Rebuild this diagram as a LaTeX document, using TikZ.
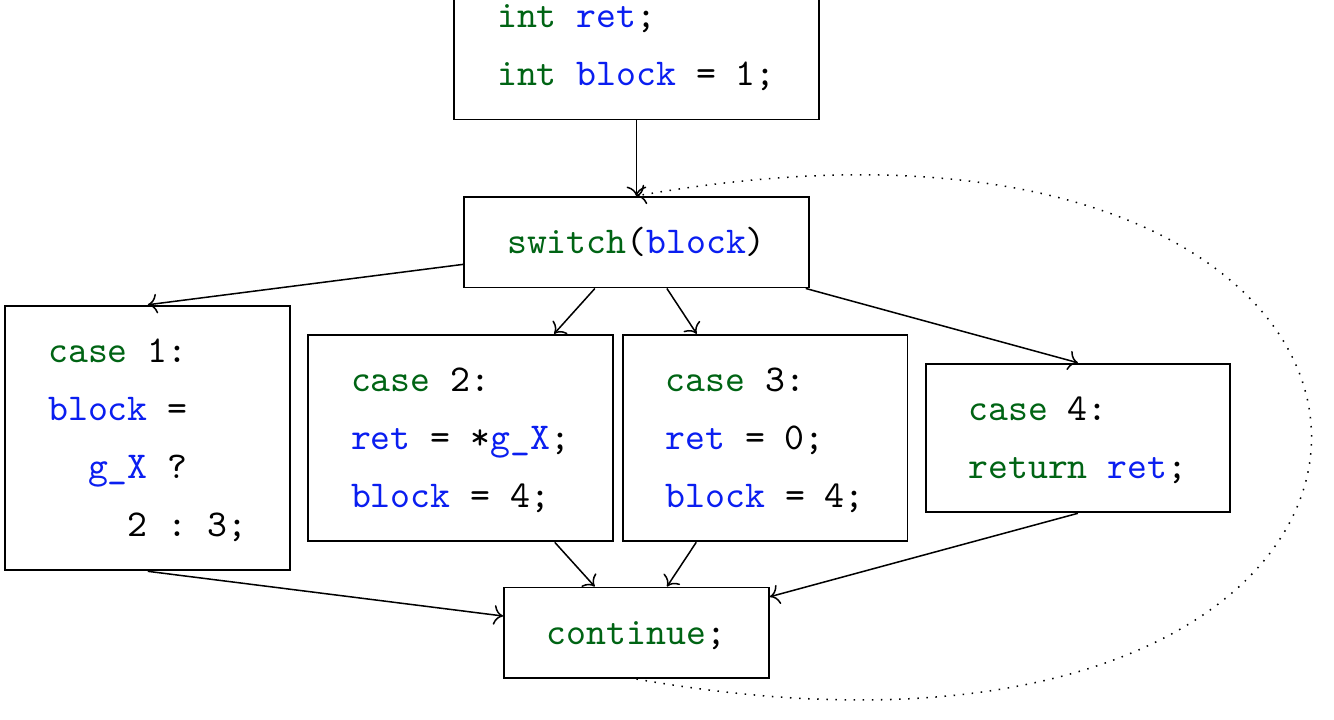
\documentclass[tikz,border=0pt]{standalone}
\usepackage{tikz}
\usetikzlibrary{arrows.meta,positioning}
\definecolor{kwgreen}{RGB}{0,100,20}
\definecolor{idblue}{RGB}{10,30,240}
\newcommand{\kw}[1]{\textcolor{kwgreen}{#1}}
\newcommand{\idn}[1]{\textcolor{idblue}{#1}}

\begin{document}
\begin{tikzpicture}[>=To]
\tikzstyle{code}=[draw,line width=0.5pt,align=left,inner xsep=11.3pt,inner ysep=4.3pt,font=\ttfamily\frenchspacing\fontsize{10}{15.3}\selectfont]
\useasboundingbox (0,0) rectangle (12.366,6.674);
\node[code] (decl) at (5.900,6.255) {\strut\kw{int} \idn{ret};\\\kw{int} \idn{block} = 1;\strut};
\node[code,below=0.7cm of decl] (switch) {\strut\kw{switch}(\idn{block})};
\node[code,below left=0.42cm and 0.21cm of switch.south] (case2) {\strut\kw{case} 2:\\\idn{ret} = *\idn{g\_X};\\\idn{block} = 4;\strut};
\node[code,right=0.074cm of case2] (case3) {\strut\kw{case} 3:\\\idn{ret} = 0;\\\idn{block} = 4;\strut};
\node[code,left=0.15cm of case2] (case1) {\strut\kw{case} 1:\\\idn{block} =\\~~\idn{g\_X} ?\\~~~~2 : 3;\strut};
\node[code,right=0.15cm of case3] (case4) {\strut\kw{case} 4:\\\kw{return} \idn{ret};\strut};
\node[code] (continue) at (switch |- case2.south) [yshift=-0.41cm,anchor=north] {\strut\kw{continue};};
\draw[->] (decl) -- (switch);
\draw[->] (switch) -- (case1.north);
\draw[->] (switch) -- (case2);
\draw[->] (switch) -- (case3);
\draw[->] (switch) -- (case4.north);
\draw[->] (case1.south) -- (continue);
\draw[->] (case2) -- (continue);
\draw[->] (case3) -- (continue);
\draw[->] (case4.south) -- (continue);
\draw[->,dotted] (continue.south) to[out=-10,in=10,looseness=4.85] (switch.north);
\end{tikzpicture}
\end{document}
